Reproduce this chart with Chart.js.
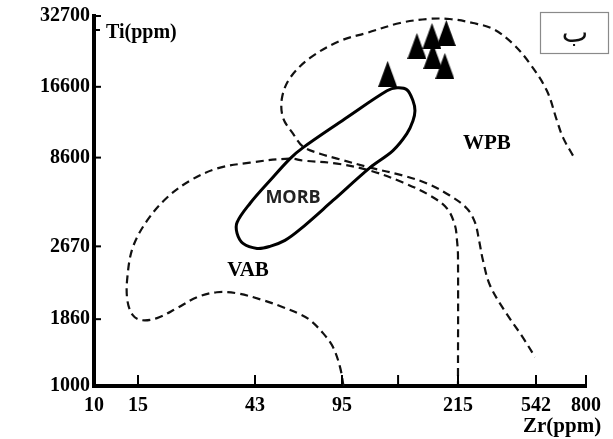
<!DOCTYPE html>
<html>
<head>
<meta charset="utf-8">
<script src="https://cdn.jsdelivr.net/npm/chart.js@4/dist/chart.umd.min.js"></script>
<style>
html,body{margin:0;padding:0;background:#fff;}
#wrap{width:613px;height:439px;position:relative;}
</style>
</head>
<body>
<div id="wrap"><canvas id="c" width="613" height="439"></canvas></div>
<script>
// ---- tick labels (ppm) ----
const xTickValues = [10, 15, 43, 95, 141, 215, 542, 800];
const xTickLabels = ['10', '15', '43', '95', '', '215', '542', '800'];
const yTickValues = [1000, 1860, 2670, 8600, 16600, 32700];
const yTickLabels = ['1000', '1860', '2670', '8600', '16600', '32700'];

// ---- field boundaries (Zr ppm, Ti ppm) ----
const morbZr = [97,66.6,59.2,49.3,41.1,36.6,36.6,38.6,43.8,49.3,56.5,64.8,87.5,115.7,136,150,156.6,158.8,156.6,150,140,130.4,97];
const morbTi = [12340,9434,8490,6356,4698,3660,3167,2777,2643,2670,2890,3338,4888,7540,9178,10740,12120,13290,14580,16150,16450,16000,12340];

const vabZr = [96,93.3,87.5,79.9,71.0,64.8,55.5,46.3,36.6,30.5,25.5,21.3,17.8,15.5,14.3,13.6,13.6,14.3,16.3,19.5,24.0,30.5,41.1,59.2,66.6,90.8,115.7,146,176.5,199,210.5,213.5,215,215];
const vabTi = [1000,1192,1435,1634,1843,1906,1974,2044,2115,2126,2074,1964,1870,1843,1897,2044,2290,2657,3758,5084,6356,7443,8054,8490,8268,7949,7250,6192,5220,4400,3519,2890,2554,1000];

const wpbZr = [723,669,638,590,505,413,326,257,203,173,143,113,93.3,71,59.2,55,55.5,60.8,66.6,77.7,90.8,115.7,146,173,203,239,263,276,289,314,375,459,536];
const wpbTi = [8760,10350,12120,16000,20680,25030,28880,30580,31770,31770,30580,27800,25750,21890,18090,14990,12460,10740,9520,8920,8490,7540,6790,6110,5220,4400,3660,2890,2491,2201,1935,1589,1308];

// ---- samples ----
const sampleZr = [131, 161, 179, 198, 180, 196];
const sampleTi = [18790, 24550, 27010, 27800, 22310, 20280];

// ---- field names ----
const fieldNames = ['MORB', 'VAB', 'WPB'];
const fieldZr = [60.8, 40.4, 303];
const fieldTi = [5084, 2371, 9790];

// ---- axis calibration of the (non-uniform) printed axes ----
const xCalVals = [10, 15, 43, 95, 215, 542, 800];
const xCalFrac = [0, 0.0894, 0.3272, 0.5041, 0.7398, 0.8984, 1];
const yCalVals = [1000, 1860, 2670, 8600, 16600, 32700];
const yCalFrac = [0, 0.1806, 0.3774, 0.6173, 0.8086, 1];

function interpLog(v, vals, frac) {
  const lv = Math.log10(v);
  let i = 0;
  while (i < vals.length - 2 && lv > Math.log10(vals[i + 1])) i++;
  const a = Math.log10(vals[i]), b = Math.log10(vals[i + 1]);
  return frac[i] + (lv - a) / (b - a) * (frac[i + 1] - frac[i]);
}
const toX = v => interpLog(v, xCalVals, xCalFrac);
const toY = v => interpLog(v, yCalVals, yCalFrac);
const pts = (zr, ti) => zr.map((z, i) => ({ x: toX(z), y: toY(ti[i]) }));

// triangle marker
const tri = document.createElement('canvas');
tri.width = 19; tri.height = 26;
(function () {
  const g = tri.getContext('2d');
  g.fillStyle = '#000';
  g.beginPath(); g.moveTo(9.5, 0); g.lineTo(19, 26); g.lineTo(0, 26); g.closePath(); g.fill();
})();

const serif = 'Liberation Serif';

const decor = {
  id: 'decor',
  afterDatasetsDraw(chart) {
    const { ctx, chartArea: a, scales: { x, y } } = chart;
    ctx.save();
    ctx.strokeStyle = '#000';
    ctx.lineWidth = 2;
    // inward tick marks
    yTickValues.forEach(v => {
      const py = y.getPixelForValue(toY(v));
      ctx.beginPath(); ctx.moveTo(a.left, py); ctx.lineTo(a.left + 7, py); ctx.stroke();
    });
    xTickValues.forEach(v => {
      const px = x.getPixelForValue(toX(v));
      ctx.beginPath(); ctx.moveTo(px, a.bottom); ctx.lineTo(px, a.bottom - 11); ctx.stroke();
    });
    // small dash before the Ti title
    ctx.beginPath(); ctx.moveTo(a.left, a.top + 14); ctx.lineTo(a.left + 6, a.top + 14); ctx.stroke();

    ctx.fillStyle = '#000';
    ctx.textBaseline = 'alphabetic';
    ctx.textAlign = 'left';
    ctx.font = 'bold 20px "' + serif + '"';
    ctx.fillText('Ti(ppm)', a.left + 12, a.top + 22);
    ctx.font = 'bold 21px "' + serif + '"';
    ctx.fillText('Zr(ppm)', 523, 432);

    // field names
    ctx.textAlign = 'center';
    ctx.textBaseline = 'middle';
    fieldNames.forEach((n, i) => {
      const px = x.getPixelForValue(toX(fieldZr[i]));
      const py = y.getPixelForValue(toY(fieldTi[i]));
      ctx.font = n === 'MORB' ? 'bold 18px "Open Sans"' : 'bold 21px "' + serif + '"';
      ctx.fillStyle = n === 'MORB' ? '#222' : '#000';
      ctx.fillText(n, px, py);
    });

    // panel letter box
    ctx.strokeStyle = '#8a8a8a';
    ctx.lineWidth = 1.2;
    ctx.strokeRect(540.5, 12.5, 68, 41);
    ctx.fillStyle = '#111';
    ctx.font = '28px "DejaVu Sans"';
    ctx.fillText('ب', 575, 35);
    ctx.restore();
  }
};

const tickFont = { family: serif, size: 20, weight: 'bold' };

new Chart(document.getElementById('c'), {
  type: 'scatter',
  data: {
    datasets: [
      { label: 'MORB', data: pts(morbZr, morbTi), showLine: true, borderColor: '#000', borderWidth: 3, pointRadius: 0, tension: 0.35, fill: false },
      { label: 'VAB', data: pts(vabZr, vabTi), showLine: true, borderColor: '#111', borderWidth: 2.2, borderDash: [8, 5], pointRadius: 0, tension: 0.35, fill: false },
      { label: 'WPB', data: pts(wpbZr, wpbTi), showLine: true, borderColor: '#111', borderWidth: 2.2, borderDash: [8, 5], pointRadius: 0, tension: 0.35, fill: false },
      { label: 'samples', data: pts(sampleZr, sampleTi), showLine: false, pointStyle: tri, pointRadius: 10, clip: false }
    ]
  },
  options: {
    responsive: false,
    animation: false,
    events: [],
    layout: { padding: { left: 0, top: 15, right: 27, bottom: 0 } },
    plugins: { legend: { display: false }, tooltip: { enabled: false } },
    scales: {
      x: {
        type: 'linear', min: 0, max: 1,
        afterFit(s) { s.height = 53; },
        afterBuildTicks(s) { s.ticks = xTickValues.map(v => ({ value: toX(v) })); },
        ticks: { callback: (v, i) => xTickLabels[i], font: tickFont, color: '#000', padding: 8, autoSkip: false, maxRotation: 0, minRotation: 0 },
        grid: { display: false, drawTicks: false },
        border: { display: true, color: '#000', width: 4 }
      },
      y: {
        type: 'linear', min: 0, max: 1,
        afterFit(s) { s.width = 94; },
        afterBuildTicks(s) { s.ticks = yTickValues.map(v => ({ value: toY(v) })); },
        ticks: { callback: (v, i) => yTickLabels[i], font: tickFont, color: '#000', padding: 4, autoSkip: false },
        grid: { display: false, drawTicks: false },
        border: { display: true, color: '#000', width: 4 }
      }
    }
  },
  plugins: [decor]
});
</script>
</body>
</html>
